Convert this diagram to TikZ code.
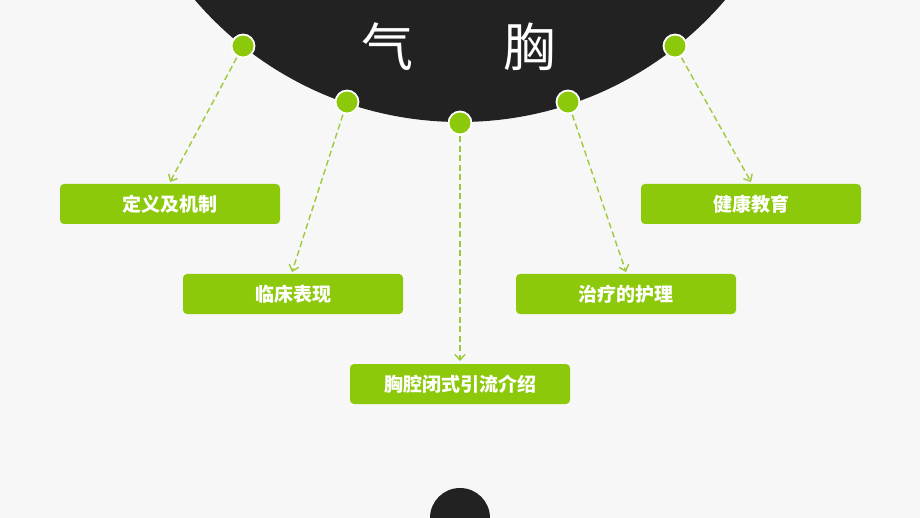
\documentclass[tikz,border=0pt]{standalone}
\usepackage{fontspec}
\newfontfamily\cjk{Noto Sans CJK SC}
\usetikzlibrary{arrows.meta}
\definecolor{bg}{HTML}{F7F7F7}
\definecolor{dark}{HTML}{222222}
\definecolor{lime}{HTML}{8DC90B}
\definecolor{dashg}{HTML}{9CCB3A}
\tikzset{
  topic/.style={fill=lime, rounded corners=4pt, minimum width=220pt, minimum height=40pt, inner sep=0pt, text=white, font=\cjk\bfseries\fontsize{19}{19}\selectfont},
  dot/.style={circle, fill=lime, draw=white, line width=1.8pt, minimum size=23pt, inner sep=0pt},
  link/.style={draw=dashg, line width=1.4pt, dash pattern=on 6pt off 3.5pt, -{Straight Barb[length=5.5pt,width=10pt,line width=1.4pt]}, shorten <=1pt},
  title/.style={text=white, font=\cjk\fontsize{52}{52}\selectfont, inner sep=0pt}
}
\begin{document}
\begin{tikzpicture}[x=1pt,y=-1pt]
\useasboundingbox (0,0) rectangle (920,518);
\fill[bg] (0,0) rectangle (920,518);
\begin{scope}
\clip (0,0) rectangle (920,518);
\fill[dark] (460,-227) circle[radius=349];
\fill[dark] (460,518) circle[radius=30];
\end{scope}
\node[title] (t1) at (387,47) {气};
\node[title] (t2) at (529,47) {胸};
\node[dot] (d1) at (243,46) {};
\node[dot] (d2) at (347,102) {};
\node[dot] (d3) at (460,123) {};
\node[dot] (d4) at (568,102) {};
\node[dot] (d5) at (675,46) {};
\node[topic] (b1) at (170,204) {定义及机制};
\node[topic] (b2) at (293,294) {临床表现};
\node[topic] (b3) at (460,384) {胸腔闭式引流介绍};
\node[topic] (b4) at (626,294) {治疗的护理};
\node[topic] (b5) at (751,204) {健康教育};
\coordinate (e1) at (170,182);
\coordinate (e2) at (292,272);
\coordinate (e3) at (460,361);
\coordinate (e4) at (626,272);
\coordinate (e5) at (751,182);
\draw[link] (d1) -- (e1);
\draw[link] (d2) -- (e2);
\draw[link] (d3) -- (e3);
\draw[link] (d4) -- (e4);
\draw[link] (d5) -- (e5);
\end{tikzpicture}
\end{document}
